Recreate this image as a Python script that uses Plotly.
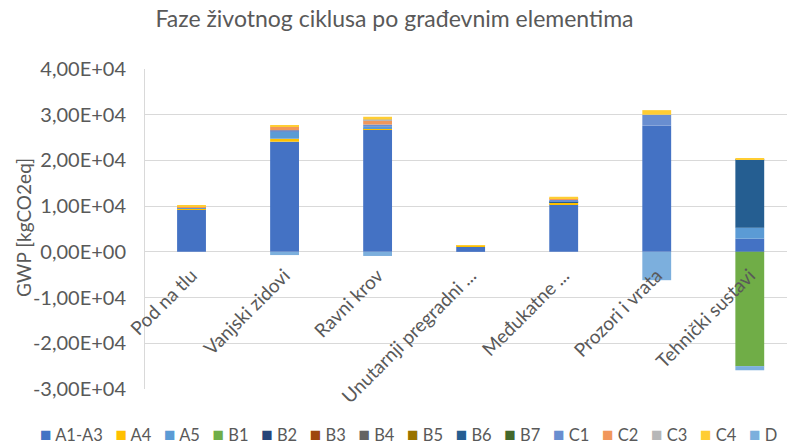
import plotly.graph_objects as go

# Building elements (category axis)
categories = ["Pod na tlu", "Vanjski zidovi", "Ravni krov", "Unutarnji pregradni ...",
              "Međukatne ...", "Prozori i vrata", "Tehnički sustavi"]

# Life-cycle stage contributions, GWP in kgCO2eq per element
stage_names = ["A1-A3", "A4", "A5", "B1", "B2", "B3", "B4", "B5", "B6", "B7",
               "C1", "C2", "C3", "C4", "D"]
a1_a3 = [9200, 24100, 26800, 1150, 10400, 27600, 2900]
a4 = [300, 650, 200, 150, 300, 0, 0]
a5 = [200, 1500, 350, 0, 200, 0, 2400]
b1 = [0, 0, 0, 0, 0, 0, -25000]
b2 = [0, 0, 0, 0, 0, 0, 0]
b3 = [0, 0, 0, 0, 0, 0, 0]
b4 = [0, 0, 0, 0, 0, 0, 0]
b5 = [0, 0, 0, 0, 0, 0, 0]
b6 = [0, 0, 0, 0, 150, 0, 15000]
b7 = [0, 0, 0, 0, 0, 0, 0]
c1 = [0, 350, 500, 0, 300, 2400, 0]
c2 = [200, 800, 900, 0, 400, 0, 0]
c3 = [0, 0, 200, 0, 0, 0, 0]
c4 = [200, 300, 600, 200, 300, 1000, 200]
d = [0, -700, -900, 0, 0, -6200, -900]
stage_values = [a1_a3, a4, a5, b1, b2, b3, b4, b5, b6, b7, c1, c2, c3, c4, d]

stage_colors = ["#4472C4", "#FFC000", "#5B9BD5", "#70AD47", "#264478", "#9E480E",
                "#636363", "#997300", "#255E91", "#43682B", "#698ED0", "#F1975A",
                "#B7B7B7", "#FFCD33", "#7CAFDD"]

# Value axis ticks
y_tickvals = [-30000, -20000, -10000, 0, 10000, 20000, 30000, 40000]
y_ticktext = ["-3,00E+04", "-2,00E+04", "-1,00E+04", "0,00E+00",
              "1,00E+04", "2,00E+04", "3,00E+04", "4,00E+04"]

FONT = "Lato, Carlito, sans-serif"
GRAY = "#595959"
GRID = "#D9D9D9"

W, H = 789, 445
M_L, M_R, M_T, M_B = 145, 2, 69, 56
plot_w = W - M_L - M_R
plot_h = H - M_T - M_B

fig = go.Figure()
for name, vals, col in zip(stage_names, stage_values, stage_colors):
    fig.add_trace(go.Bar(x=categories, y=vals, name=name,
                         marker=dict(color=col, line=dict(width=0)),
                         showlegend=False))

# Compact one-row legend under the plot
legend_parts = [f"<span style='color:{col};font-size:19px'>■</span>&nbsp;{name}"
                for name, col in zip(stage_names, stage_colors)]
legend_text = "&nbsp;&nbsp;&nbsp;".join(legend_parts)

y_min, y_max = y_tickvals[0], y_tickvals[-1]
zero_pos = (0 - y_min) / (y_max - y_min)

fig.update_layout(
    template="none",
    width=W, height=H,
    margin=dict(l=M_L, r=M_R, t=M_T, b=M_B),
    paper_bgcolor="white", plot_bgcolor="white",
    barmode="relative", bargap=0.69,
    font=dict(family=FONT, color=GRAY),
    title=dict(text="Faze životnog ciklusa po građevnim elementima",
               x=0.5, xref="container", xanchor="center",
               y=1 - 19 / H, yref="container", yanchor="middle",
               font=dict(size=23, color=GRAY, family=FONT)),
    xaxis=dict(type="category", range=[-0.5, 6.40],
               anchor="free", position=zero_pos,
               showgrid=False, showline=False, zeroline=False, ticks="",
               tickangle=-45, tickfont=dict(size=19, color=GRAY),
               ticklabelstandoff=8,
               automargin=False),
    yaxis=dict(range=[y_min, y_max], tickvals=y_tickvals, ticktext=y_ticktext,
               showgrid=True, gridcolor=GRID, gridwidth=1,
               zeroline=True, zerolinecolor=GRID, zerolinewidth=1,
               showline=True, linecolor=GRID, linewidth=1,
               ticks="", ticklabelstandoff=14,
               tickfont=dict(size=20, color=GRAY),
               automargin=False),
    annotations=[
        # value axis title
        dict(text="GWP [kgCO2eq]", xref="paper", yref="paper",
             x=(23 - M_L) / plot_w, y=(H - M_B - 228) / plot_h,
             xanchor="center", yanchor="middle", textangle=-90, showarrow=False,
             font=dict(size=19, color=GRAY, family=FONT)),
        # legend row
        dict(text=legend_text, xref="paper", yref="paper",
             x=(408 - M_L) / plot_w, y=(H - M_B - 433) / plot_h,
             xanchor="center", yanchor="middle", showarrow=False,
             font=dict(size=16.5, color=GRAY, family=FONT)),
    ],
)

fig.write_html("out.html")
